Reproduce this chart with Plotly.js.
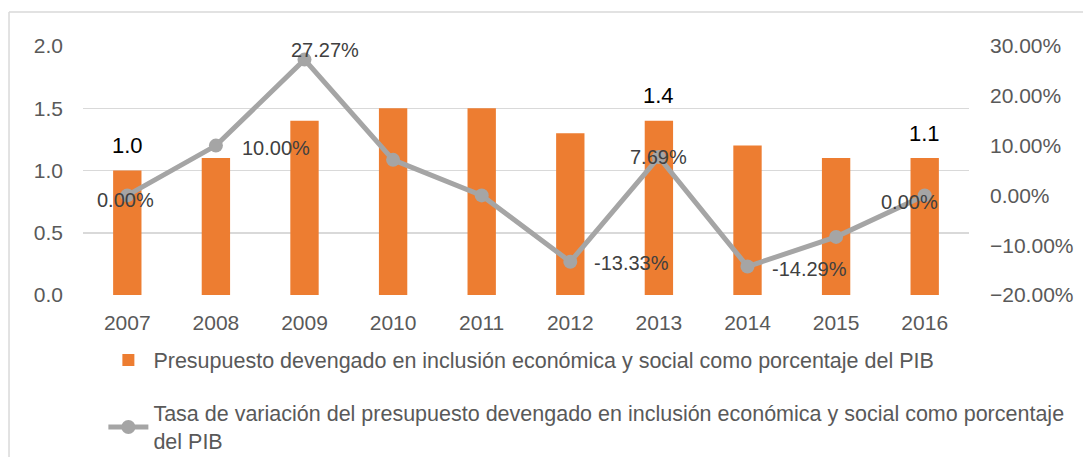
<!DOCTYPE html>
<html>
<head>
<meta charset="utf-8">
<script src="https://cdn.plot.ly/plotly-3.0.1.min.js"></script>
<style>
  html, body { margin: 0; padding: 0; background: #ffffff; }
  #chart { width: 1083px; height: 457px; }
</style>
</head>
<body>
<div id="chart"></div>
<script>
// ---- Data ----
const years = ['2007', '2008', '2009', '2010', '2011', '2012', '2013', '2014', '2015', '2016'];
const budgetPctGDP = [1.0, 1.1, 1.4, 1.5, 1.5, 1.3, 1.4, 1.2, 1.1, 1.1];
const growthRate = [0.0, 0.10, 0.2727, 0.0714, 0.0, -0.1333, 0.0769, -0.1429, -0.0833, 0.0];
const barLabelYears = ['2007', '2013', '2016'];
const rateLabelYears = ['2007', '2008', '2009', '2012', '2013', '2014', '2016'];
const barSeriesName = 'Presupuesto devengado en inclusión económica y social como porcentaje del PIB';
const lineSeriesName = 'Tasa de variación del presupuesto devengado en inclusión económica y social como porcentaje<br>del PIB';

// ---- Styles ----
const FONT = 'Liberation Sans, Arial, sans-serif';
const rateLabelStyle = {
  '2007': {xanchor: 'center', xshift: -2, yshift: -5},
  '2008': {xanchor: 'left', xshift: 24, yshift: -2},
  '2009': {xanchor: 'center', xshift: 20, yshift: 10},
  '2012': {xanchor: 'left', xshift: 22, yshift: -1},
  '2013': {xanchor: 'center', xshift: 0, yshift: 0},
  '2014': {xanchor: 'left', xshift: 22, yshift: -2},
  '2016': {xanchor: 'center', xshift: -15, yshift: -7}
};

const barTrace = {
  type: 'bar',
  x: years,
  y: budgetPctGDP,
  name: barSeriesName,
  legendgroup: 'g1',
  marker: {color: '#ED7D31'},
  width: 0.32,
  yaxis: 'y',
  hoverinfo: 'x+y'
};

const lineTrace = {
  type: 'scatter',
  mode: 'lines+markers',
  x: years,
  y: growthRate,
  name: lineSeriesName,
  legendgroup: 'g2',
  yaxis: 'y2',
  line: {color: '#A5A5A5', width: 5},
  marker: {color: '#A5A5A5', size: 14},
  hoverinfo: 'x+y'
};

const annotations = [];
barLabelYears.forEach(function (yr) {
  const i = years.indexOf(yr);
  annotations.push({
    x: i, y: budgetPctGDP[i], xref: 'x', yref: 'y',
    text: budgetPctGDP[i].toFixed(1),
    showarrow: false, yanchor: 'middle', xanchor: 'center', yshift: 25,
    font: {family: FONT, size: 22, color: '#000000'}
  });
});
rateLabelYears.forEach(function (yr) {
  const i = years.indexOf(yr);
  const s = rateLabelStyle[yr];
  annotations.push({
    x: i, y: growthRate[i], xref: 'x', yref: 'y2',
    text: (growthRate[i] * 100).toFixed(2) + '%',
    showarrow: false, yanchor: 'middle', xanchor: s.xanchor,
    xshift: s.xshift, yshift: s.yshift,
    font: {family: FONT, size: 20, color: '#404040'}
  });
});

const layout = {
  width: 1083,
  height: 457,
  margin: {l: 83, r: 114, t: 46, b: 162},
  paper_bgcolor: '#ffffff',
  plot_bgcolor: '#ffffff',
  font: {family: FONT, size: 20, color: '#595959'},
  showlegend: true,
  xaxis: {
    type: 'category',
    range: [-0.5, years.length - 0.5],
    autorange: false,
    showgrid: false,
    showline: false,
    zeroline: false,
    ticks: '',
    tickfont: {family: FONT, size: 21, color: '#595959'},
    ticklabelstandoff: 13
  },
  yaxis: {
    range: [0, 2],
    autorange: false,
    dtick: 0.5,
    tick0: 0,
    tickformat: '.1f',
    showgrid: true,
    gridcolor: '#D9D9D9',
    gridwidth: 1.5,
    zeroline: false,
    showline: false,
    ticks: '',
    tickfont: {family: FONT, size: 21, color: '#595959'},
    ticklabelstandoff: 19
  },
  yaxis2: {
    overlaying: 'y',
    side: 'right',
    range: [-0.2, 0.3],
    autorange: false,
    dtick: 0.1,
    tick0: 0,
    tickformat: '.2%',
    showgrid: false,
    zeroline: false,
    showline: false,
    ticks: '',
    tickfont: {family: FONT, size: 21, color: '#595959'},
    ticklabelstandoff: 20
  },
  legend: {
    orientation: 'v',
    x: 0.023,
    xanchor: 'left',
    yref: 'container',
    y: 0.257,
    yanchor: 'top',
    font: {family: FONT, size: 21.5, color: '#595959'},
    tracegroupgap: 22,
    itemwidth: 40,
    bgcolor: 'rgba(0,0,0,0)'
  },
  annotations: annotations,
  shapes: [
    {type: 'line', xref: 'paper', yref: 'paper', x0: -0.0835, x1: -0.0835, y0: -1.0, y1: 1.1365,
      line: {color: '#D9D9D9', width: 1.5}},
    {type: 'line', xref: 'paper', yref: 'paper', x0: -0.0835, x1: 1.2, y0: 1.1365, y1: 1.1365,
      line: {color: '#D9D9D9', width: 1.5}}
  ]
};

Plotly.newPlot('chart', [barTrace, lineTrace], layout, {displayModeBar: false, staticPlot: true});
</script>
</body>
</html>
